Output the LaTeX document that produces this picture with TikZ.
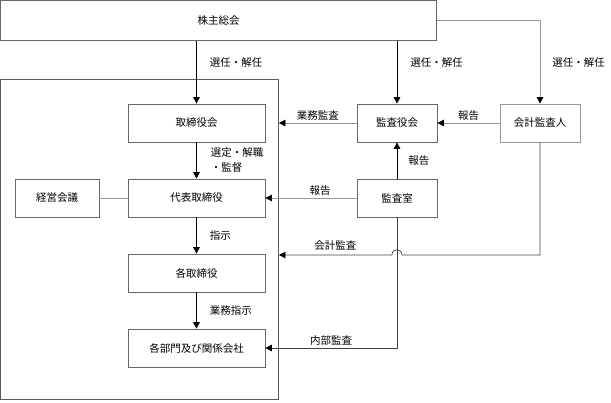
\documentclass[tikz,border=0pt]{standalone}
\usepackage{fontspec}
\newfontfamily\jpfont{Noto Sans CJK JP}
\usetikzlibrary{arrows.meta}

\begin{document}
\begin{tikzpicture}[x=1pt,y=-1pt,line width=0.7pt,
    box/.style={draw=black!60,rectangle,minimum width=137pt,minimum height=38pt,inner sep=0pt,font=\jpfont\fontsize{10.5}{12}\selectfont},
    lbl/.style={font=\jpfont\fontsize{10.5}{15}\selectfont,inner sep=2pt},
    arr/.style={-{Triangle[length=6.5pt,width=6.5pt,color=black]}},
    gline/.style={draw=black!40},
    dline/.style={draw=black!75}]
    \useasboundingbox (0,0) rectangle (611,402);
    % boxes
    \node[box,minimum width=436pt,minimum height=40pt] (soukai) at (218.5,20.5) {株主総会};
    \node[box,draw=black!65,minimum width=278pt,minimum height=320pt] (naibu) at (139.5,239) {};
    \node[box] (torikai) at (196.5,123) {取締役会};
    \node[box,minimum width=80pt] (kansayaku) at (397,123) {監査役会};
    \node[box,draw=black!40,minimum width=80pt] (kaikeinin) at (540,123) {会計監査人};
    \node[box,minimum width=84pt] (keiei) at (57,198) {経営会議};
    \node[box] (daihyo) at (196.5,198) {代表取締役};
    \node[box,minimum width=80pt] (kansashitsu) at (397,198) {監査室};
    \node[box] (kaku) at (196.5,273) {各取締役};
    \node[box] (bumon) at (196.5,348) {各部門及び関係会社};
    % election
    \draw[arr] (soukai.south -| torikai) -- node[lbl,pos=0.35,right=11pt]{選任・解任} (torikai.north);
    \draw[arr] (soukai.south -| kansayaku) -- node[lbl,pos=0.35,right=11pt]{選任・解任} (kansayaku.north);
    \draw[arr,gline] (soukai.east) -| node[lbl,pos=0.75,right=10pt]{選任・解任} (kaikeinin.north);
    % audit
    \draw[arr,gline] (kansayaku.west) -- node[lbl,above]{業務監査} (naibu.east |- kansayaku.west);
    \draw[arr,gline] (kaikeinin.west) -- node[lbl,above]{報告} (kansayaku.east);
    \draw[arr] (kansashitsu.north) -- node[lbl,right=9pt]{報告} (kansayaku.south);
    \draw[arr,gline,line width=0.5pt] (kansashitsu.west) -- node[lbl,above,pos=0.4]{報告} (daihyo.east);
    \coordinate (hopR) at (402,255);
    \coordinate (hopL) at (392,255);
    \draw[arr,dline] (kaikeinin.south) |- (hopR) .. controls (402,248) and (392,248) .. (hopL)
        -- node[lbl,above,yshift=2pt]{会計監査} (naibu.east |- hopL);
    \draw[arr,dline] (kansashitsu.south) |- node[lbl,above,pos=0.75]{内部監査} (bumon.east);
    % management
    \draw[gline,line width=0.5pt] (keiei.east) -- (daihyo.west);
    \draw[arr] (torikai.south) -- node[lbl,right=12pt,align=left]{選定・解職\\・監督} (daihyo.north);
    \draw[arr] (daihyo.south) -- node[lbl,right=11pt]{指示} (kaku.north);
    \draw[arr] (kaku.south) -- node[lbl,right=11pt]{業務指示} (bumon.north);
\end{tikzpicture}
\end{document}
